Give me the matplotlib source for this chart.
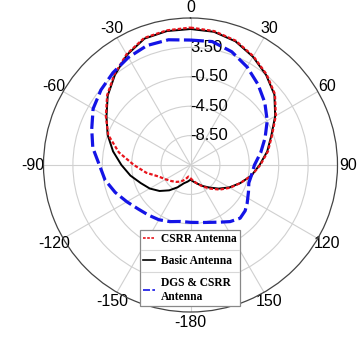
import numpy as np
import matplotlib
matplotlib.use('Agg')
import matplotlib.pyplot as plt
from matplotlib.lines import Line2D

# ---------------- data (dB vs angle in degrees) ----------------
angles_basic = [0, 10, 20, 30, 40, 50, 60, 70, 80, 90, 100, 110, 120, 130, 140, 150, 160, 170, 180,
                -170, -160, -150, -140, -130, -120, -110, -100, -90, -80, -70, -60, -50, -40, -30, -20, -10]
basic = [6.0, 5.9, 5.4, 4.5, 3.5, 2.4, 0.8, -0.8, -1.9, -3.1, -4.1, -5.3, -6.4, -7.5, -8.5, -9.2, -9.8, -10.2, -10.5,
         -10.2, -9.85, -9.0, -8.0, -7.0, -6.1, -5.3, -4.2, -3.1, -1.8, -0.5, 0.7, 2.2, 3.5, 4.8, 5.8, 6.0]

angles_csrr = angles_basic
csrr = [6.2, 6.0, 5.5, 4.6, 3.6, 2.5, 0.9, -0.7, -1.8, -3.0, -4.1, -5.3, -6.3, -7.3, -8.3, -9.1, -9.8, -10.3, -10.7,
        -10.9, -10.4, -9.9, -9.5, -9.1, -8.6, -7.9, -6.4, -4.8, -2.6, -0.6, 0.8, 2.3, 3.6, 4.9, 5.9, 6.1]

angles_dgs = [0, 10, 20, 30, 40, 50, 60, 70, 80, 90, 100, 107, 115, 124, 130, 137, 145, 152, 160, 170, 180,
              -170, -160, -150, -140, -130, -120, -110, -100, -90, -80, -70, -60, -50, -40, -30, -20, -10]
dgs = [4.5, 4.55, 3.9, 2.9, 1.8, 0.7, -0.45, -1.7, -2.8, -3.8, -4.1, -4.2, -3.8, -3.2, -2.8, -2.6, -3.1, -3.7, -4.2, -4.55, -4.7,
       -4.7, -4.3, -3.9, -3.6, -3.2, -2.5, -1.6, -0.7, -0.1, 1.0, 1.8, 2.8, 3.4, 3.9, 4.4, 4.8, 4.8]

series_labels = ['CSRR Antenna', 'Basic Antenna', 'DGS & CSRR\nAntenna']

r_min, r_max = -12.5, 7.5
r_ticks = [-8.5, -4.5, -0.5, 3.5]
r_tick_labels = ['-8.50', '-4.50', '-0.50', '3.50']
theta_ticks = [0, 30, 60, 90, 120, 150, 180, 210, 240, 270, 300, 330]
theta_labels = ['0', '30', '60', '90', '120', '150', '-180', '-150', '-120', '-90', '-60', '-30']

# ---------------- figure ----------------
W, H = 361, 338
fig = plt.figure(figsize=(W / 100, H / 100), dpi=100)
cx, cy, R = 190.5, 165, 147
ax = fig.add_axes([(cx - R) / W, (H - cy - R) / H, 2 * R / W, 2 * R / H], projection='polar')
ax.set_theta_zero_location('N')
ax.set_theta_direction(-1)
ax.set_ylim(r_min, r_max)


def closed(angles, vals):
    th = np.deg2rad(np.mod(np.array(angles, dtype=float), 360))
    th = np.append(th, th[0] + 2 * np.pi)
    v = np.append(np.array(vals, dtype=float), vals[0])
    return th, v


th, v = closed(angles_csrr, csrr)
ax.plot(th, v, color='#e8141c', lw=1.6, dashes=(1.6, 0.9), zorder=4, label=series_labels[0])
th, v = closed(angles_basic, basic)
ax.plot(th, v, color='black', lw=1.4, zorder=3, label=series_labels[1])
th, v = closed(angles_dgs, dgs)
ax.plot(th, v, color='#1414e6', lw=2.3, dashes=(4.2, 1.4), zorder=5, label=series_labels[2])

# grids
ax.set_thetagrids(theta_ticks, theta_labels, fontsize=11.5, family='Liberation Sans')
ax.set_xticks(np.deg2rad(np.arange(0, 360, 5)), minor=True)
ax.tick_params(axis='x', which='major', direction='in', length=5, width=0.8, color='#444444', pad=0.5)
ax.tick_params(axis='x', which='minor', direction='in', length=2.5, width=0.6, color='#444444')
ax.set_rticks(r_ticks)
ax.set_yticklabels([])
ax.grid(True, which='major', color='#d0d0d0', lw=0.8)
ax.xaxis.grid(True, which='minor', alpha=0)
ax.spines['polar'].set_color('#444444')
ax.spines['polar'].set_linewidth(0.9)

for rv, lab in zip(r_ticks, r_tick_labels):
    ax.text(0, rv, lab, ha='left', va='center', fontsize=12, family='Liberation Sans',
            color='black', zorder=2, transform=ax.transData)

# legend
leg = fig.legend(loc='upper left', bbox_to_anchor=(140 / W, 1 - 230 / H),
                 prop={'family': 'Liberation Serif', 'weight': 'bold', 'size': 8.3},
                 handlelength=1.0, handletextpad=0.5, labelspacing=0.85,
                 borderpad=0.3, borderaxespad=0, frameon=True, fancybox=False, framealpha=1,
                 edgecolor='#888888')
leg.get_frame().set_linewidth(0.9)
for line in leg.get_lines():
    line.set_linewidth(1.2)

# faint separators between legend rows
fig.canvas.draw()
renderer = fig.canvas.get_renderer()
fb = leg.get_frame().get_window_extent(renderer)
tb = [t.get_window_extent(renderer) for t in leg.get_texts()]
inv = fig.transFigure.inverted()
for upper, lower in zip(tb[:-1], tb[1:]):
    ymid = (upper.y0 + lower.y1) / 2
    (x0, y0) = inv.transform((fb.x0 + 1, ymid))
    (x1, _) = inv.transform((fb.x1 - 1, ymid))
    fig.add_artist(Line2D([x0, x1], [y0, y0], color='#d8d8d8', lw=0.8, zorder=10))

fig.savefig('out.png', dpi=100)
